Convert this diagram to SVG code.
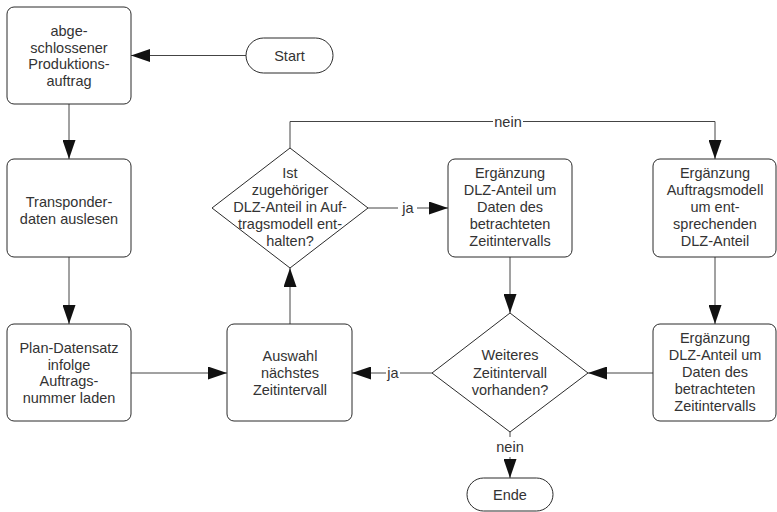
<svg xmlns="http://www.w3.org/2000/svg" width="777" height="512" viewBox="0 0 777 512">
<style>
.n{fill:#fff;stroke:#2b2b2b;stroke-width:1}
.t{font-family:"Liberation Sans",Arial,sans-serif;font-size:14.5px;fill:#333;text-anchor:middle}
.c{fill:none;stroke:#444;stroke-width:1}
</style>
<defs>
<marker id="ah" markerWidth="19" markerHeight="13" refX="19" refY="6.5" orient="auto" markerUnits="userSpaceOnUse">
<path d="M0,0 L19,6.5 L0,13 Z" fill="#111"/>
</marker>
</defs>
<rect width="777" height="512" fill="#fff"/>
<g id="connectors">
<path class="c" d="M246,55.5 H131" marker-end="url(#ah)"/>
<path class="c" d="M69,104 V159" marker-end="url(#ah)"/>
<path class="c" d="M69,257 V324" marker-end="url(#ah)"/>
<path class="c" d="M131,373 H227" marker-end="url(#ah)"/>
<path class="c" d="M290,324 V268" marker-end="url(#ah)"/>
<path class="c" d="M290,148 V121.5 H493"/>
<path class="c" d="M523,121.5 H715 V159" marker-end="url(#ah)"/>
<text class="t" x="508" y="126.5">nein</text>
<path class="c" d="M368,208 H398"/>
<path class="c" d="M417,208 H448" marker-end="url(#ah)"/>
<text class="t" x="408" y="213">ja</text>
<path class="c" d="M510,257 V313" marker-end="url(#ah)"/>
<path class="c" d="M715,257 V324" marker-end="url(#ah)"/>
<path class="c" d="M653,373 H588" marker-end="url(#ah)"/>
<path class="c" d="M432,373 H400"/>
<path class="c" d="M386,373 H352" marker-end="url(#ah)"/>
<text class="t" x="393" y="378">ja</text>
<path class="c" d="M510,432 V437"/>
<path class="c" d="M510,457 V478" marker-end="url(#ah)"/>
<text class="t" x="510" y="452">nein</text>
</g>
<g id="start">
<rect class="n" x="246" y="38" width="87" height="35" rx="17.5"/>
<text class="t" x="289.5" y="60.5">Start</text>
</g>
<g id="auftrag">
<rect class="n" x="7" y="7" width="124" height="97" rx="7"/>
<text class="t" x="69"><tspan x="69" y="36">abge-</tspan><tspan x="69" y="52.7">schlossener</tspan><tspan x="69" y="69.4">Produktions-</tspan><tspan x="69" y="86.1">auftrag</tspan></text>
</g>
<g id="transponder">
<rect class="n" x="7" y="159" width="124" height="98" rx="7"/>
<text class="t"><tspan x="69" y="207">Transponder-</tspan><tspan x="69" y="223.7">daten auslesen</tspan></text>
</g>
<g id="plan">
<rect class="n" x="7" y="324" width="124" height="97" rx="7"/>
<text class="t"><tspan x="69" y="353">Plan-Datensatz</tspan><tspan x="69" y="369.7">infolge</tspan><tspan x="69" y="386.4">Auftrags-</tspan><tspan x="69" y="403.1">nummer laden</tspan></text>
</g>
<g id="auswahl">
<rect class="n" x="227" y="324" width="125" height="97" rx="7"/>
<text class="t"><tspan x="290" y="361.3">Auswahl</tspan><tspan x="290" y="378">nächstes</tspan><tspan x="290" y="394.7">Zeitintervall</tspan></text>
</g>
<g id="entscheidung1">
<path class="n" d="M290,148 L368,208 L290,268 L212,208 Z"/>
<text class="t"><tspan x="290" y="178">Ist</tspan><tspan x="290" y="195">zugehöriger</tspan><tspan x="290" y="212">DLZ-Anteil in Auf-</tspan><tspan x="290" y="229">tragsmodell ent-</tspan><tspan x="290" y="246">halten?</tspan></text>
</g>
<g id="ergaenzung1">
<rect class="n" x="448" y="159" width="124" height="98" rx="7"/>
<text class="t"><tspan x="510" y="178">Ergänzung</tspan><tspan x="510" y="195">DLZ-Anteil um</tspan><tspan x="510" y="212">Daten des</tspan><tspan x="510" y="229">betrachteten</tspan><tspan x="510" y="246">Zeitintervalls</tspan></text>
</g>
<g id="ergaenzung2">
<rect class="n" x="653" y="159" width="123" height="98" rx="7"/>
<text class="t"><tspan x="715" y="178">Ergänzung</tspan><tspan x="715" y="195">Auftragsmodell</tspan><tspan x="715" y="212">um ent-</tspan><tspan x="715" y="229">sprechenden</tspan><tspan x="715" y="246">DLZ-Anteil</tspan></text>
</g>
<g id="ergaenzung3">
<rect class="n" x="653" y="324" width="123" height="97" rx="7"/>
<text class="t"><tspan x="715" y="343">Ergänzung</tspan><tspan x="715" y="360">DLZ-Anteil um</tspan><tspan x="715" y="377">Daten des</tspan><tspan x="715" y="394">betrachteten</tspan><tspan x="715" y="411">Zeitintervalls</tspan></text>
</g>
<g id="entscheidung2">
<path class="n" d="M510,313 L588,373 L510,432 L432,373 Z"/>
<text class="t"><tspan x="510" y="360.3">Weiteres</tspan><tspan x="510" y="377.5">Zeitintervall</tspan><tspan x="510" y="394.7">vorhanden?</tspan></text>
</g>
<g id="ende">
<rect class="n" x="467" y="478" width="86" height="33" rx="16.5"/>
<text class="t" x="510" y="499.5">Ende</text>
</g>
</svg>
